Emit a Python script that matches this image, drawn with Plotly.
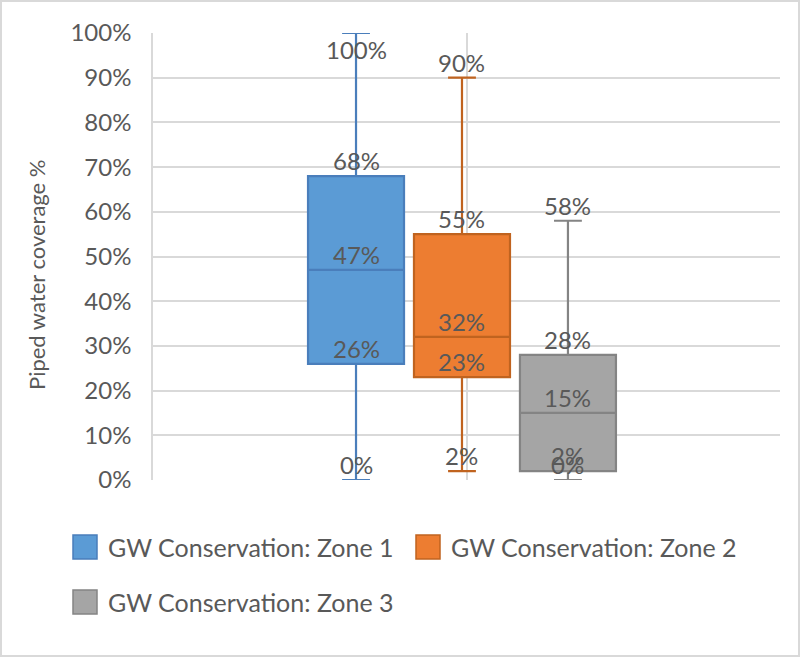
import plotly.graph_objects as go

# ---- data ----
zones = ["GW Conservation: Zone 1", "GW Conservation: Zone 2", "GW Conservation: Zone 3"]
mins = [0, 2, 0]
q1s = [26, 23, 2]
medians = [47, 32, 15]
q3s = [68, 55, 28]
maxs = [100, 90, 58]
y_ticks = [0, 10, 20, 30, 40, 50, 60, 70, 80, 90, 100]
y_title = "Piped water coverage %"

fills = ["#5B9BD5", "#ED7D31", "#A5A5A5"]
lines = ["#4A7EBB", "#C0631F", "#848484"]

W, H = 800, 657
L, R, T, B = 153, 20, 33, 177
PW, PH = W - L - R, H - T - B
FONT = "Lato, 'Open Sans', sans-serif"
TXT = "#595959"
GRID = "#D9D9D9"
FS = 24

boxgap = 0.493
boxgroupgap = 0.094
shift = 0.0072
xr = [-0.5 + shift, 0.5 + shift]


def pxx(px):
    return (px - L) / PW


def pxy(py):
    return (H - B - py) / PH


fig = go.Figure()
n = len(zones)
g = 1 - boxgap
for i in range(n):
    fig.add_trace(go.Box(
        x=[0], q1=[q1s[i]], median=[medians[i]], q3=[q3s[i]],
        lowerfence=[mins[i]], upperfence=[maxs[i]],
        name=zones[i], fillcolor=fills[i],
        line=dict(color=lines[i], width=2.2),
        whiskerwidth=0.29, boxpoints=False, showlegend=False,
        hoverinfo="skip",
    ))

annotations = []
for i in range(n):
    xpos = g * (i - (n - 1) / 2) / n
    for v in [mins[i], q1s[i], medians[i], q3s[i], maxs[i]]:
        ys = 15.5 if v < y_ticks[-1] else -16
        annotations.append(dict(
            x=xpos, y=v, xref="x", yref="y", text=f"{v}%",
            showarrow=False, yshift=ys, yanchor="middle",
            font=dict(family=FONT, size=FS, color=TXT),
        ))

# y-axis title
annotations.append(dict(
    x=pxx(36), y=pxy(275), xref="paper", yref="paper", text=y_title,
    textangle=-90, showarrow=False, xanchor="center", yanchor="middle",
    font=dict(family=FONT, size=22, color=TXT),
))

# manual legend
shapes = []
legend_pos = [(73, 547), (416, 547), (73, 602)]
for i in range(n):
    sx, sy = legend_pos[i]
    shapes.append(dict(
        type="rect", xref="paper", yref="paper",
        x0=pxx(sx), x1=pxx(sx + 24), y0=pxy(sy - 12), y1=pxy(sy + 12),
        fillcolor=fills[i], line=dict(color=lines[i], width=1.5),
    ))
    annotations.append(dict(
        x=pxx(sx + 33), y=pxy(sy), xref="paper", yref="paper", text=zones[i],
        showarrow=False, xanchor="left", yanchor="middle",
        font=dict(family=FONT, size=25, color=TXT),
    ))

# chart border
shapes.append(dict(
    type="rect", xref="paper", yref="paper",
    x0=pxx(1), x1=pxx(W - 1), y0=pxy(H - 1), y1=pxy(1),
    line=dict(color=GRID, width=2), fillcolor="rgba(0,0,0,0)", layer="below",
))

fig.update_layout(
    width=W, height=H,
    margin=dict(l=L, r=R, t=T, b=B),
    paper_bgcolor="white", plot_bgcolor="white",
    boxmode="group", boxgap=boxgap, boxgroupgap=boxgroupgap,
    showlegend=False,
    annotations=annotations, shapes=shapes,
    xaxis=dict(range=xr, tickvals=[(xr[0] + xr[1]) / 2], showticklabels=False,
               showgrid=True, gridcolor=GRID, gridwidth=1.5, zeroline=False,
               showline=False),
    yaxis=dict(range=[0, 100], tickvals=y_ticks,
               ticktext=[f"{t}%" for t in y_ticks],
               showgrid=True, gridcolor=GRID, gridwidth=1.5, zeroline=False,
               showline=True, linecolor=GRID, linewidth=1.5,
               ticks="", ticklabelstandoff=15,
               tickfont=dict(family=FONT, size=FS, color=TXT)),
)

fig.write_html("out.html", config={"displayModeBar": False},
               post_script="document.body.style.margin='0';document.body.style.padding='0';")
